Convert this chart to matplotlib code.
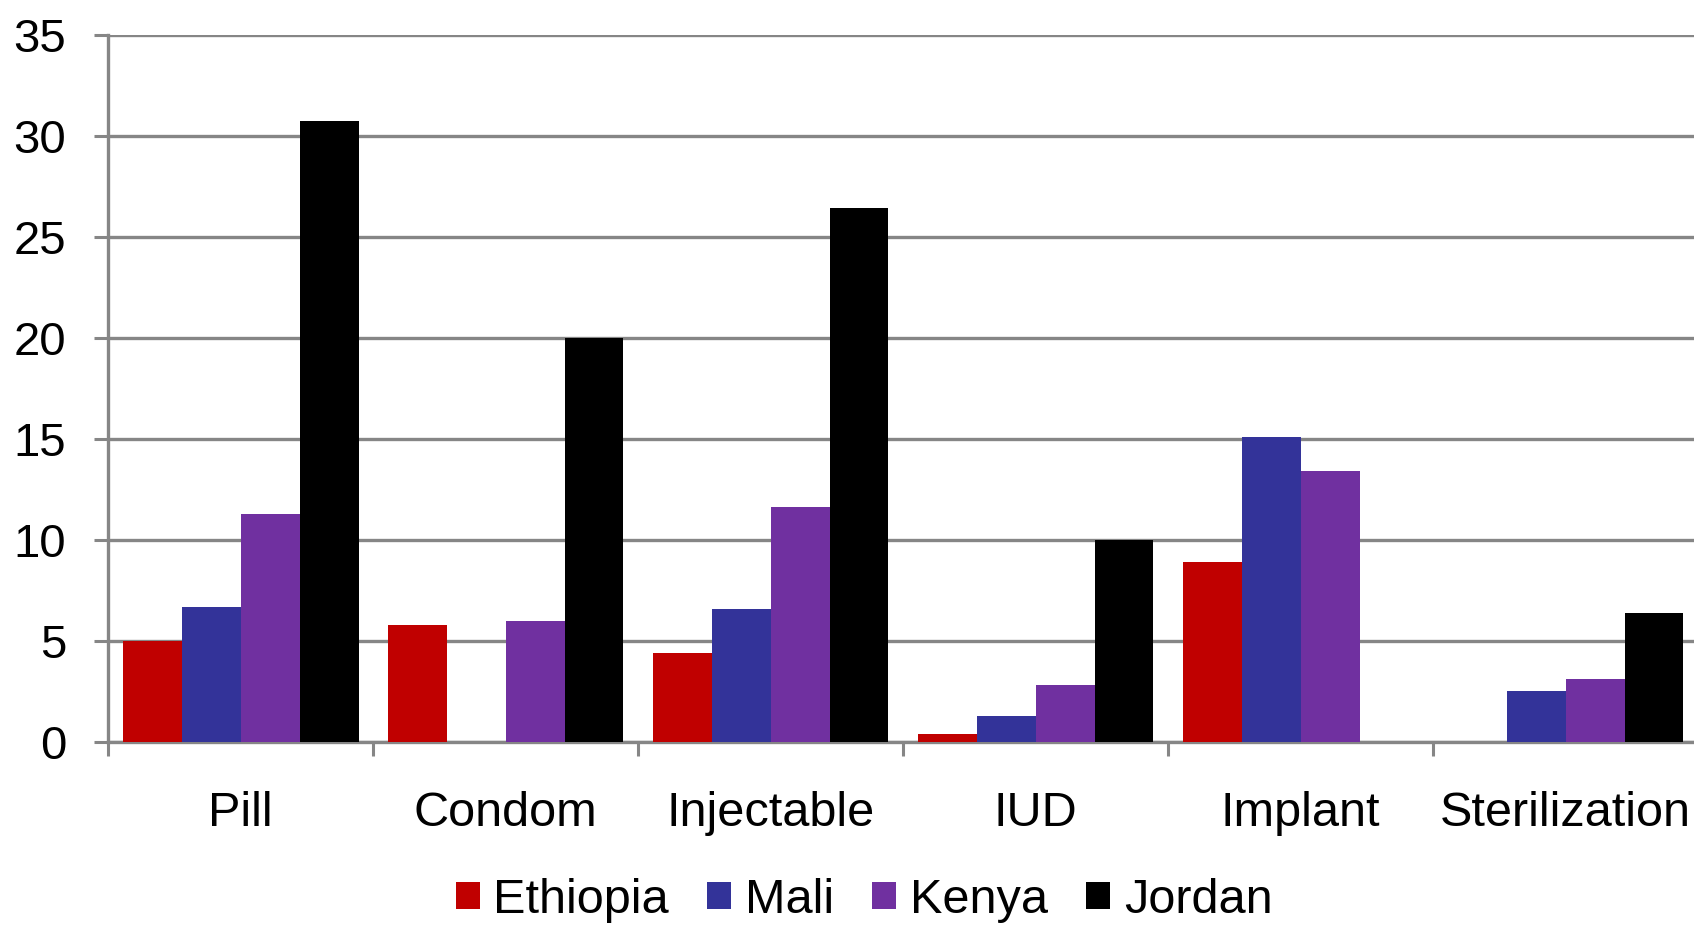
import matplotlib
matplotlib.use("Agg")
import matplotlib.pyplot as plt
import numpy as np

categories = ["Pill", "Condom", "Injectable", "IUD", "Implant", "Sterilization"]
countries = ["Ethiopia", "Mali", "Kenya", "Jordan"]
ethiopia = [5.0, 5.8, 4.4, 0.4, 8.9, 0.0]
mali = [6.7, 0.0, 6.6, 1.3, 15.1, 2.5]
kenya = [11.3, 6.0, 11.65, 2.8, 13.4, 3.1]
jordan = [30.7, 20.0, 26.4, 10.0, 0.0, 6.4]
series = [ethiopia, mali, kenya, jordan]
colors = ["#C00000", "#333399", "#7030A0", "#000000"]
yticks = [0, 5, 10, 15, 20, 25, 30, 35]

plt.rcParams['font.family'] = ['Liberation Sans', 'DejaVu Sans']

fig = plt.figure(figsize=(16.94, 9.27), dpi=100)
ax = fig.add_axes([0.0638, 0.1996, 0.9386, 0.7631])

n = len(categories)
bw = 0.2225
centers = np.arange(n) + 0.5
for i, (vals, c, name) in enumerate(zip(series, colors, countries)):
    x = centers + (i - 1.5) * bw
    ax.bar(x, vals, width=bw, color=c, label=name, zorder=3,
           edgecolor='none', linewidth=0)

ax.set_xlim(0, n)
ax.set_ylim(0, 35)
ax.set_yticks(yticks)
ax.set_yticklabels([str(v) for v in yticks], fontsize=34)
ax.yaxis.grid(True, color='#868686', linewidth=2.4, zorder=0)
ax.set_axisbelow(True)

ax.set_xticks(np.arange(n + 1))
ax.set_xticklabels([])
ax.set_xticks(centers, minor=True)
ax.set_xticklabels(categories, minor=True, fontsize=35)
ax.tick_params(axis='x', which='minor', length=0, pad=35)
ax.tick_params(axis='x', which='major', length=10, width=2.2, color='#868686', direction='out')
ax.tick_params(axis='y', length=10, width=2.2, color='#868686', direction='out', pad=20)

for s in ['top', 'right']:
    ax.spines[s].set_visible(False)
for s in ['left', 'bottom']:
    ax.spines[s].set_color('#868686')
    ax.spines[s].set_linewidth(2.4)

leg = fig.legend(loc='center', bbox_to_anchor=(0.51, 0.029), ncol=4, frameon=False,
                 fontsize=35, handlelength=0.5, handleheight=0.5,
                 handletextpad=0.28, columnspacing=0.78, borderaxespad=0)

fig.savefig("out.png", dpi=100)
